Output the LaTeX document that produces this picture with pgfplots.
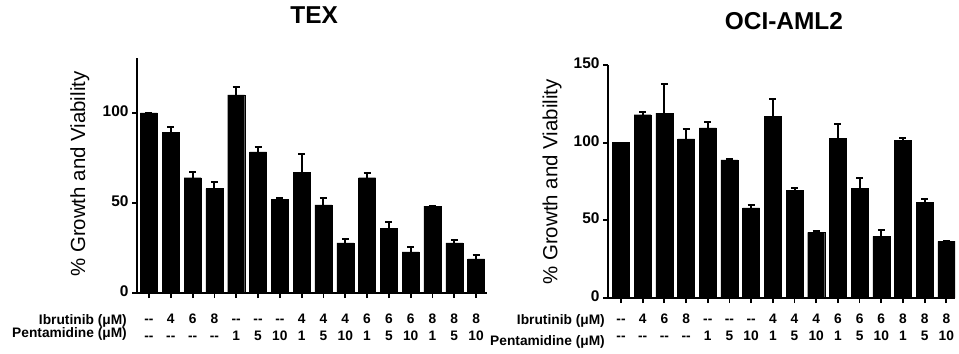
\documentclass[border=0pt]{standalone}
\usepackage{pgfplots}
\pgfplotsset{compat=1.18}
\usepackage{fontspec}
\setmainfont{Liberation Sans}

\pgfplotstableread{
x y e
0 100 0
1 89.4 2.6
2 64 3
3 58 3.5
4 110 4.2
5 78.3 2.8
6 52 1
7 67 10
8 49 4
9 27.8 2.2
10 64 2.7
11 36 3.5
12 22.8 2.8
13 48.3 0
14 27.8 1.6
15 19 2.2
}\tex

\pgfplotstableread{
x y e
0 100 0
1 118 2
2 119 19
3 102.5 6
4 109.6 3.9
5 89 0.5
6 58 2
7 117 11
8 69.2 1.8
9 42.3 0.7
10 102.6 9.4
11 70.5 6.5
12 39.7 3.9
13 101.3 1.7
14 61.5 2.5
15 36.5 0.5
}\oci

\pgfplotsset{
  mybars/.style={
    scale only axis,
    axis x line*=bottom, axis y line*=left,
    axis line style={line width=1.8bp, -},
    tick align=outside,
    major tick length=5bp,
    tick style={line width=1.8bp, black},
    xtick={0,...,15},
    xticklabels={{-{}-\\-{}-},{4\\-{}-},{6\\-{}-},{8\\-{}-},{-{}-\\1},{-{}-\\5},{-{}-\\10},{4\\1},{4\\5},{4\\10},{6\\1},{6\\5},{6\\10},{8\\1},{8\\5},{8\\10}},
    typeset ticklabels with strut,
    ymin=0,
    ybar, bar width=17bp,
    /pgf/number format/assume math mode=true,
    yticklabel style={font=\fontsize{15.5}{18}\selectfont\bfseries},
    xticklabel style={font=\fontsize{13.8}{17}\selectfont\bfseries, align=center, anchor=north},
    ylabel={\% Growth and Viability},
    ylabel style={font=\fontsize{20.5}{24}\selectfont, anchor=center},
    title style={font=\fontsize{24.5}{28}\selectfont\bfseries, anchor=center},
    error bars/y dir=plus, error bars/y explicit,
    error bars/error bar style={line width=2bp, black},
    error bars/error mark options={rotate=90, mark size=3.5bp, line width=2bp, black},
  }
}

\begin{document}
\begin{tikzpicture}
\path[use as bounding box] (0,0) rectangle (959bp,354bp);

\begin{axis}[mybars,
  at={(137bp,61bp)}, anchor=south west,
  width=350bp, height=235bp,
  xmin=-0.55, xmax=15.5, ymax=130.5,
  ytick={0,50,100},
  title={TEX},
  title style={at={(axis description cs:0.506,1.157)}},
  ylabel style={at={(axis description cs:-0.163,0.506)}},
  xticklabel style={yshift=-10bp},
]
\addplot[fill=black, draw=black] table[x=x, y=y, y error=e] {\tex};
\end{axis}

\begin{axis}[mybars,
  at={(608bp,56bp)}, anchor=south west,
  width=347bp, height=233bp,
  xmin=-0.6, xmax=15.4, ymax=150,
  ytick={0,50,100,150},
  title={OCI-AML2},
  title style={at={(axis description cs:0.507,1.163)}},
  ylabel style={at={(axis description cs:-0.161,0.498)}},
  xticklabel style={yshift=-5bp},
]
\addplot[fill=black, draw=black] table[x=x, y=y, y error=e] {\oci};
\end{axis}

\begin{scope}[every node/.style={font=\fontsize{13.8}{17}\selectfont\bfseries, anchor=east, inner sep=0pt}]
\node at (127bp,33bp) {Ibrutinib (μM)};
\node at (127bp,20bp) {Pentamidine (μM)};
\node at (605bp,33bp) {Ibrutinib (μM)};
\node at (605bp,12bp) {Pentamidine (μM)};
\end{scope}
\end{tikzpicture}
\end{document}
